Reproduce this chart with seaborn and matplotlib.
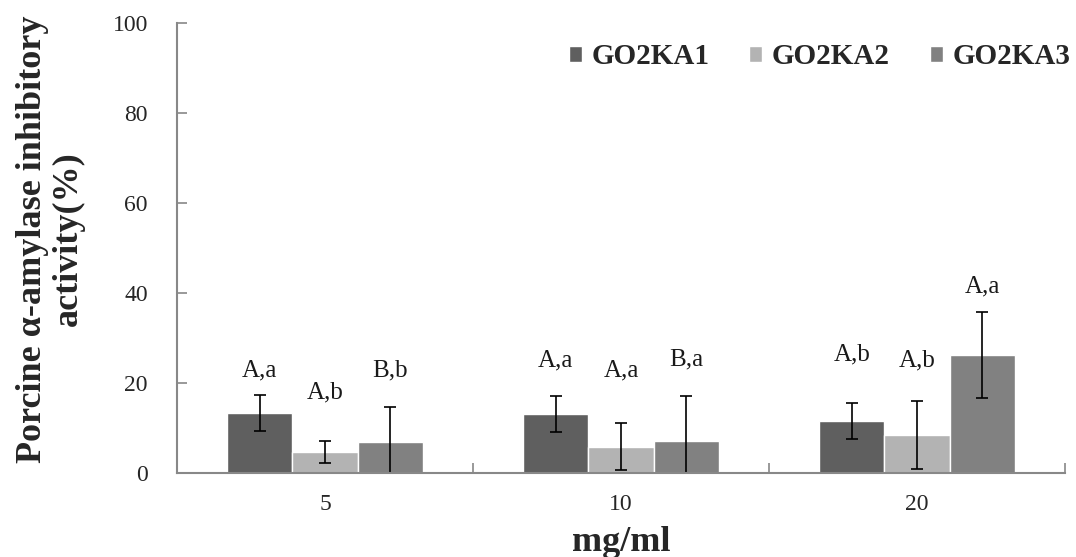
# Porcine alpha-amylase inhibitory activity - grouped bar chart
import numpy as np
import pandas as pd
import seaborn as sns
import matplotlib.pyplot as plt

# Data
doses = ["5", "10", "20"]
samples = ["GO2KA1", "GO2KA2", "GO2KA3"]
go2ka1 = [13.2, 13.1, 11.6]
go2ka2 = [4.6, 5.8, 8.4]
go2ka3 = [6.9, 7.0, 26.2]
err1 = [4.0, 4.0, 4.0]
err2 = [2.5, 5.2, 7.5]
err3 = [7.8, 10.0, 9.6]
labels1 = ["A,a", "A,a", "A,b"]
labels2 = ["A,b", "A,a", "A,b"]
labels3 = ["B,b", "B,a", "A,a"]
label_y1 = [22.7, 24.9, 26.4]
label_y2 = [17.9, 22.8, 24.9]
label_y3 = [22.7, 25.1, 41.4]

colors = ["#5f5f5f", "#b3b3b3", "#818181"]

df = pd.DataFrame({
    "dose": doses * 3,
    "sample": np.repeat(samples, 3),
    "value": go2ka1 + go2ka2 + go2ka3,
})

sns.set_theme(style="white")
plt.rcParams["font.family"] = ["Liberation Serif", "DejaVu Serif"]

fig = plt.figure(figsize=(10.76, 5.57), dpi=100)
ax = fig.add_axes([0.1645, 0.151, 0.8253, 0.808])

sns.barplot(data=df, x="dose", y="value", hue="sample", order=doses,
            hue_order=samples, palette=colors, width=0.66, saturation=1,
            errorbar=None, ax=ax)

# error bars and significance letters on each bar
errs = [err1, err2, err3]
texts = [labels1, labels2, labels3]
text_y = [label_y1, label_y2, label_y3]
bar_groups = list(ax.containers)
for i, cont in enumerate(bar_groups):
    for j, bar in enumerate(cont.patches):
        xc = bar.get_x() + bar.get_width() / 2
        ax.errorbar(xc, bar.get_height(), yerr=errs[i][j], fmt="none",
                    ecolor="black", elinewidth=1.2, capsize=4, capthick=1.2)
        ax.text(xc, text_y[i][j], texts[i][j], ha="center", va="center",
                fontsize=18, color="#1a1a1a")

ax.set_ylim(0, 100)
ax.set_xlim(-0.5, 2.5)
ax.set_yticks(range(0, 101, 20))
ax.set_xticks([-0.5, 0.5, 1.5, 2.5], minor=True)
ax.tick_params(axis="y", direction="in", length=7, width=1.2, color="#888888",
               labelsize=17, pad=21, left=True)
ax.tick_params(axis="x", which="major", length=0, labelsize=17, pad=15)
ax.tick_params(axis="x", which="minor", direction="in", length=7, width=1.2,
               color="#888888", bottom=True)

for side in ["top", "right"]:
    ax.spines[side].set_visible(False)
for side in ["left", "bottom"]:
    ax.spines[side].set_color("#888888")
    ax.spines[side].set_linewidth(1.5)

ax.set_xlabel("mg/ml", fontsize=26, fontweight="bold", labelpad=8)
ax.set_ylabel("Porcine α-amylase inhibitory\nactivity(%)", fontsize=26,
              fontweight="bold", labelpad=20, linespacing=1.1, y=0.52)

leg = ax.legend(loc="center right", bbox_to_anchor=(0.995, 0.898),
                bbox_transform=fig.transFigure, ncol=3, frameon=False,
                prop={"weight": "bold", "size": 21}, handlelength=0.45,
                handleheight=0.45, handletextpad=0.33, columnspacing=1.37,
                borderpad=0, borderaxespad=0)

fig.savefig("out.png", dpi=100)
